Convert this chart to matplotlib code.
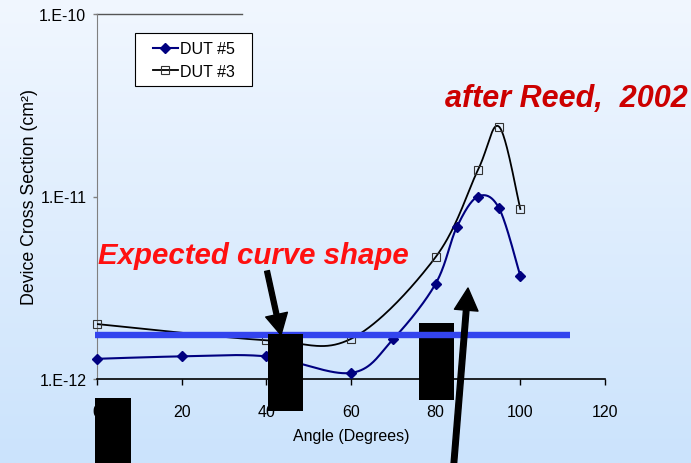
import matplotlib
matplotlib.use("Agg")
import matplotlib.pyplot as plt
import numpy as np
from matplotlib.lines import Line2D
from matplotlib.patches import FancyArrowPatch, Rectangle
from matplotlib.ticker import FixedLocator, NullLocator

W, H = 691, 464
FONT = "Liberation Sans"

angles_dut5 = [0, 20, 40, 60, 70, 80, 85, 90, 95, 100]
xsec_dut5 = [1.29e-12, 1.33e-12, 1.33e-12, 1.08e-12, 1.66e-12, 3.33e-12, 6.8e-12, 1.0e-11, 8.6e-12, 3.67e-12]
angles_dut3 = [0, 40, 60, 80, 90, 95, 100]
xsec_dut3 = [2.0e-12, 1.63e-12, 1.66e-12, 4.66e-12, 1.40e-11, 2.41e-11, 8.54e-12]
expected_x = [-0.5, 111.7]
expected_y = [1.74e-12, 1.74e-12]
x_ticks = [0, 20, 40, 60, 80, 100, 120]
y_ticks = [1e-12, 1e-11, 1e-10]
y_tick_labels = ["1.E-12", "1.E-11", "1.E-10"]


def smooth(xs, ys, n=40):
    # catmull-rom through the points in x / log10(y), like excel's smoothed line
    p = np.column_stack([xs, np.log10(ys)])
    p = np.vstack([p[0], p, p[-1]])
    t = np.linspace(0, 1, n)[:, None]
    segs = []
    for i in range(1, len(p) - 2):
        p0, p1, p2, p3 = p[i - 1], p[i], p[i + 1], p[i + 2]
        c1 = p1 + (p2 - p0) / 6
        c2 = p2 - (p3 - p1) / 6
        segs.append((1 - t) ** 3 * p1 + 3 * (1 - t) ** 2 * t * c1 + 3 * (1 - t) * t ** 2 * c2 + t ** 3 * p2)
    s = np.vstack(segs)
    return s[:, 0], 10 ** s[:, 1]


def fx(px):
    return px / W


def fy(py):
    return 1 - py / H


fig = plt.figure(figsize=(W / 100, H / 100), dpi=100)

# background gradient
bg = fig.add_axes([0, 0, 1, 1], zorder=-10)
bg.axis("off")
top = np.array([241, 247, 255]) / 255
bottom = np.array([203, 227, 252]) / 255
grad = np.linspace(0, 1, 256)[:, None, None]
img = top * (1 - grad) + bottom * grad
bg.imshow(np.repeat(img, 2, axis=1), aspect="auto", extent=[0, 1, 0, 1])

ax = fig.add_axes([fx(97), fy(380), (605 - 97) / W, (380 - 15) / H])
ax.patch.set_visible(False)
ax.set_yscale("log")
ax.set_xlim(0, 120)
ax.set_ylim(1e-12, 1e-10)
ax.xaxis.set_major_locator(FixedLocator(x_ticks))
ax.yaxis.set_major_locator(FixedLocator(y_ticks))
ax.yaxis.set_minor_locator(NullLocator())
ax.set_yticklabels(y_tick_labels)
for s in ["top", "right"]:
    ax.spines[s].set_visible(False)
ax.spines["left"].set_color("#808080")
ax.spines["bottom"].set_color("black")
ax.spines["bottom"].set_linewidth(1.2)
ax.tick_params(axis="x", length=4.5, width=1, color="black", pad=13.5, labelsize=11.5)
ax.tick_params(axis="y", length=3.2, width=1, color="#808080", pad=4.5, labelsize=11.5)
for lab in ax.get_xticklabels() + ax.get_yticklabels():
    lab.set_fontfamily(FONT)

# partial line along 1.E-10
ax.plot([0, 34.2], [1e-10, 1e-10], color="#555555", lw=1, clip_on=False, zorder=2)

sx, sy = smooth(angles_dut5, xsec_dut5)
ax.plot(sx, sy, color="#000080", lw=1.5, zorder=3)
ax.plot(angles_dut5, xsec_dut5, ls="none", marker="D", ms=5.5, color="#000080", zorder=3.5, clip_on=False)

sx, sy = smooth(angles_dut3, xsec_dut3)
ax.plot(sx, sy, color="black", lw=1.3, zorder=3)
ax.plot(angles_dut3, xsec_dut3, ls="none", marker="s", ms=5.5, mfc="none", mec="#333333", mew=0.8,
        zorder=3.5, clip_on=False)

# black boxes
box_kw = dict(transform=fig.transFigure, facecolor="black", edgecolor="none", clip_on=False)
ax.add_patch(Rectangle((fx(419), fy(401)), 35 / W, 77 / H, zorder=4, **box_kw))
ax.plot(expected_x, expected_y, color="#3344ee", lw=4.6, solid_capstyle="butt", clip_on=False, zorder=5)
ax.add_patch(Rectangle((fx(268), fy(412)), 35 / W, 77 / H, zorder=6, **box_kw))
ax.add_patch(Rectangle((fx(95), fy(470)), 36 / W, 71 / H, zorder=6, **box_kw))

arrow1 = FancyArrowPatch((fx(267), fy(272)), (fx(281), fy(336)), transform=fig.transFigure,
                         arrowstyle="simple,head_length=15,head_width=16,tail_width=3.5",
                         color="black", shrinkA=0, shrinkB=0, clip_on=False, zorder=7)
arrow2 = FancyArrowPatch((fx(453), fy(475)), (fx(468), fy(289)), transform=fig.transFigure,
                         arrowstyle="simple,head_length=16,head_width=17,tail_width=4",
                         color="black", shrinkA=0, shrinkB=0, clip_on=False, zorder=7)
ax.add_patch(arrow1)
ax.add_patch(arrow2)

# legend: drawn box plus a frameless legend inside it
ax.add_patch(Rectangle((fx(135), fy(87)), 117 / W, 53 / H, transform=fig.transFigure, facecolor="white",
                       edgecolor="black", lw=0.8, clip_on=False, zorder=8))
handles = [
    Line2D([], [], color="#000080", lw=1.5, marker="D", ms=5.5),
    Line2D([], [], color="black", lw=1.3, marker="s", ms=5.5, mfc="none", mec="#333333", mew=0.8),
]
leg = ax.legend(handles, ["DUT #5", "DUT #3"], loc="upper left", bbox_to_anchor=(fx(153), fy(42.5)),
                bbox_transform=fig.transFigure, borderaxespad=0, borderpad=0, frameon=False,
                handlelength=1.56, handletextpad=0.13, labelspacing=0.44,
                prop={"family": FONT, "size": 11.5})
leg.set_zorder(9)

fig.text(fx(30), fy(197), "Device Cross Section (cm²)", rotation=90, ha="center", va="center",
         fontsize=12.8, family=FONT)
fig.text(fx(351), fy(437), "Angle (Degrees)", ha="center", va="center", fontsize=11.5, family=FONT)

fig.text(fx(98), fy(263.5), "Expected curve shape", ha="left", va="baseline", fontsize=21.2,
         fontweight="bold", fontstyle="italic", color="#ff1010", family=FONT)
fig.text(fx(445), fy(106.5), "after Reed,  2002", ha="left", va="baseline", fontsize=22,
         fontweight="bold", fontstyle="italic", color="#cc0000", family=FONT)

fig.savefig("out.png", dpi=100)
